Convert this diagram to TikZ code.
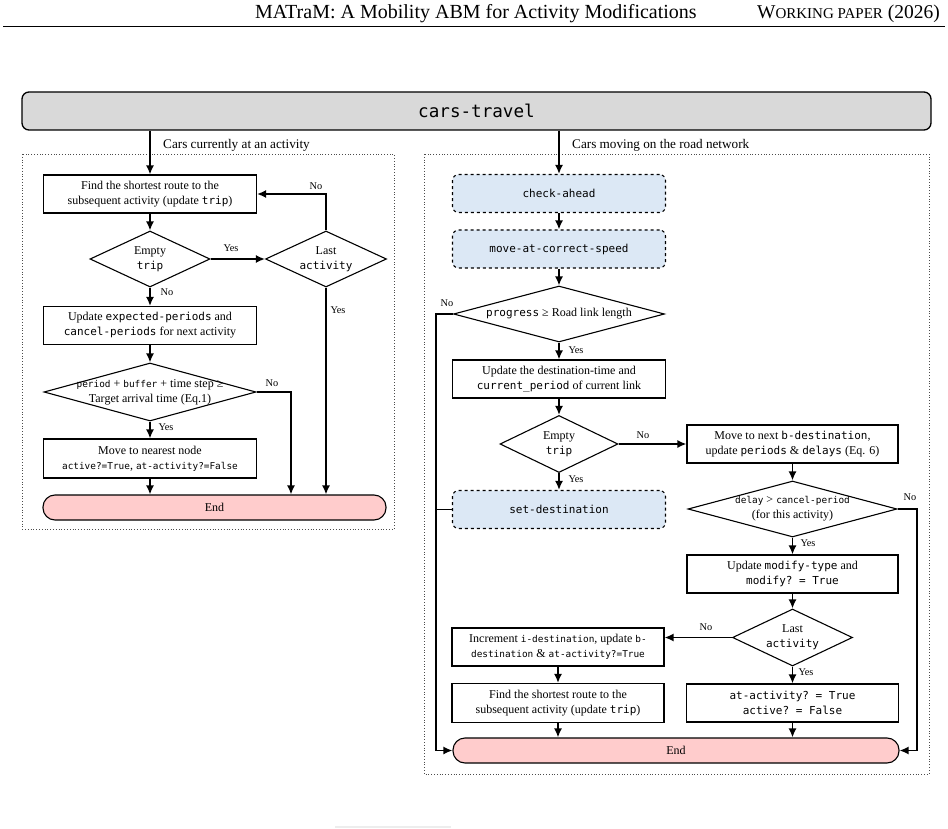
\documentclass[tikz,border=0pt]{standalone}
\usepackage{fontspec}
\setmainfont{Liberation Serif}
\setmonofont{DejaVu Sans Mono}
\usetikzlibrary{arrows.meta,shapes.geometric,calc}
\newcommand\cd[1]{{\fontsize{11}{15}\selectfont\ttfamily #1}}
\newcommand\scd[1]{{\fontsize{9.4}{15}\selectfont\ttfamily #1}}
\definecolor{dblue}{HTML}{DCE8F5}
\definecolor{endpink}{HTML}{FFCCCC}
\definecolor{titlegray}{HTML}{D9D9D9}
\begin{document}
\begin{tikzpicture}[x=1pt,y=-1pt,
  every node/.style={font=\fontsize{12}{15}\selectfont},
  box/.style={draw, line width=1.1pt, minimum width=213pt, minimum height=38pt, align=center, inner sep=2pt, fill=white},
  dbox/.style={box, dashed, rounded corners=6pt, fill=dblue},
  dia/.style={draw, diamond, line width=1.1pt, inner sep=0pt, fill=white},
  endbox/.style={draw, line width=1.1pt, rounded corners=12pt, fill=endpink, minimum height=25pt, inner sep=0pt},
  arr/.style={-{Latex[length=9pt,width=8pt]}, line width=1.6pt},
  ln/.style={line width=1.6pt},
  lab/.style={font=\fontsize{10.3}{12}\selectfont, inner sep=0pt},
  sect/.style={anchor=west, inner sep=0pt, font=\fontsize{13.2}{15}\selectfont},
  panel/.style={draw=black!70, dotted, line width=0.8pt}]
\useasboundingbox (0,0) rectangle (948,829);
% header
\node[anchor=base west, inner sep=0pt, font=\fontsize{20}{22}\selectfont] (hd) at (255,19) {MATraM: A Mobility ABM for Activity Modifications};
\node[anchor=base east, inner sep=0pt, font=\fontsize{19.5}{22}\selectfont] (wp) at (940,19) {W{\fontsize{15}{16}\selectfont ORKING PAPER} (2026)};
\draw[line width=1pt] (3,27) -- (945,27);
% panels
\draw[panel] (22,154) rectangle (394,529);
\draw[panel] (424,154) rectangle (929,774);
% title
\node[draw, line width=1.3pt, fill=titlegray, rounded corners=7pt, minimum width=909pt, minimum height=38pt, font=\fontsize{17.6}{20}\selectfont\ttfamily] (title) at (476.5,111) {cars-travel};
\node[sect] (lt1) at (163,145) {Cars currently at an activity};
\node[sect] (lt2) at (572,145) {Cars moving on the road network};
% left column
\node[box] (f1) at (150,194) {Find the shortest route to the\\subsequent activity (update \cd{trip})};
\node[dia, minimum width=120pt, minimum height=56pt, label={[align=center]center:Empty\\\cd{trip}}] (e1) at (150,259) {};
\node[dia, minimum width=121pt, minimum height=56pt, label={[align=center]center:Last\\\cd{activity}}] (la1) at (326,259) {};
\node[box] (u1) at (150,325.5) {Update \cd{expected-periods} and\\\cd{cancel-periods} for next activity};
\node[dia, minimum width=212pt, minimum height=58pt, label={[align=center]center:\scd{period} + \scd{buffer} + time step ≥\\Target arrival time (Eq.1)}] (p1) at (150,392) {};
\node[box, minimum height=39pt] (m1) at (150,458.5) {Move to nearest node\\\scd{active?=True}, \scd{at-activity?=False}};
\node[endbox, minimum width=343pt] (end1) at (214.5,507.5) {End};
\coordinate (nl) at (291,0);
\draw[arr] (title.south -| f1.north) -- (f1.north);
\draw[arr] (f1.south) -- (e1.north);
\draw[arr] (e1.east) -- (la1.west);
\draw[arr] (la1.north) |- (f1.east);
\draw[arr] (e1.south) -- (u1.north);
\draw[arr] (u1.south) -- (p1.north);
\draw[arr] (p1.south) -- (m1.north);
\draw[arr] (m1.south) -- (m1.south |- end1.north);
\draw[arr] (p1.east) -| (nl |- end1.north);
\draw[arr] (la1.south) -- (la1.south |- end1.north);
\node[lab] (y1) at (231,248) {Yes};
\node[lab] (n1) at (316,186) {No};
\node[lab] (n2) at (167,292) {No};
\node[lab] (y2) at (338,310) {Yes};
\node[lab] (n3) at (272,383) {No};
\node[lab] (y3) at (166,427) {Yes};
% right column
\node[dbox] (ca) at (559,193.5) {\cd{check-ahead}};
\node[dbox] (mv) at (559,249) {\cd{move-at-correct-speed}};
\node[dia, minimum width=211pt, minimum height=56pt, label={[align=center]center:\cd{progress} ≥ Road link length}] (pr) at (559,314) {};
\node[box] (ud) at (559,379) {Update the destination-time and\\\cd{current\_period} of current link};
\node[dia, minimum width=118pt, minimum height=57pt, label={[align=center]center:Empty\\\cd{trip}}] (e2) at (559,444) {};
\node[box, minimum width=211pt] (mn) at (792.5,444) {Move to next \cd{b-destination},\\update \cd{periods} \& \cd{delays} (Eq. 6)};
\node[dbox] (sd) at (559,509.5) {\cd{set-destination}};
\node[dia, minimum width=209pt, minimum height=56pt, label={[align=center]center:\scd{delay} > \scd{cancel-period}\\(for this activity)}] (dl) at (792.5,509) {};
\node[box, minimum width=211pt] (um) at (792.5,574) {Update \cd{modify-type} and\\\cd{modify? = True}};
\node[dia, minimum width=120pt, minimum height=57pt, label={[align=center]center:Last\\\cd{activity}}] (la2) at (792.5,637.5) {};
\node[box, minimum width=212pt] (inc) at (558,647) {Increment \scd{i-destination}, update \scd{b-}\\\scd{destination} \& \scd{at-activity?=True}};
\node[box, minimum width=212pt, minimum height=39pt] (f2) at (558,703) {Find the shortest route to the\\subsequent activity (update \cd{trip})};
\node[box, minimum width=212pt] (aa) at (792.5,703) {\cd{at-activity? = True}\\\cd{active? = False}};
\node[endbox, minimum width=446pt] (end2) at (676,750.5) {End};
\coordinate (lx) at (436,0);
\coordinate (rx) at (917,0);
\draw[arr] (title.south -| ca.north) -- (ca.north);
\draw[arr] (ca.south) -- (mv.north);
\draw[arr] (mv.south) -- (pr.north);
\draw[arr] (pr.south) -- (ud.north);
\draw[arr] (ud.south) -- (e2.north);
\draw[arr] (e2.east) -- (e2.east -| mn.west);
\draw[arr] (e2.south) -- (sd.north);
\draw[arr] (mn.south) -- (dl.north);
\draw[arr] (dl.south) -- (um.north);
\draw[arr] (um.south) -- (la2.north);
\draw[arr] (la2.west) -- (la2.west -| inc.east);
\draw[arr] (la2.south) -- (aa.north);
\draw[arr] (inc.south) -- (f2.north);
\draw[arr] (f2.south) -- (f2.south |- end2.north);
\draw[arr] (aa.south) -- (aa.south |- end2.north);
\draw[arr] (pr.west) -| (lx |- end2.west) -- (end2.west);
\draw[ln] (sd.west) -- (sd.west -| lx);
\draw[arr] (dl.east) -| (rx |- end2.east) -- (end2.east);
\node[lab] (n4) at (447,303) {No};
\node[lab] (y4) at (576,350) {Yes};
\node[lab] (n5) at (643,435) {No};
\node[lab] (y5) at (576,479) {Yes};
\node[lab] (n6) at (910,497) {No};
\node[lab] (y6) at (808,543) {Yes};
\node[lab] (n7) at (706,627) {No};
\node[lab] (y7) at (806,672) {Yes};
% faint mark at bottom
\draw[black!7, line width=2pt] (335,827) -- (451,827);
\end{tikzpicture}
\end{document}
